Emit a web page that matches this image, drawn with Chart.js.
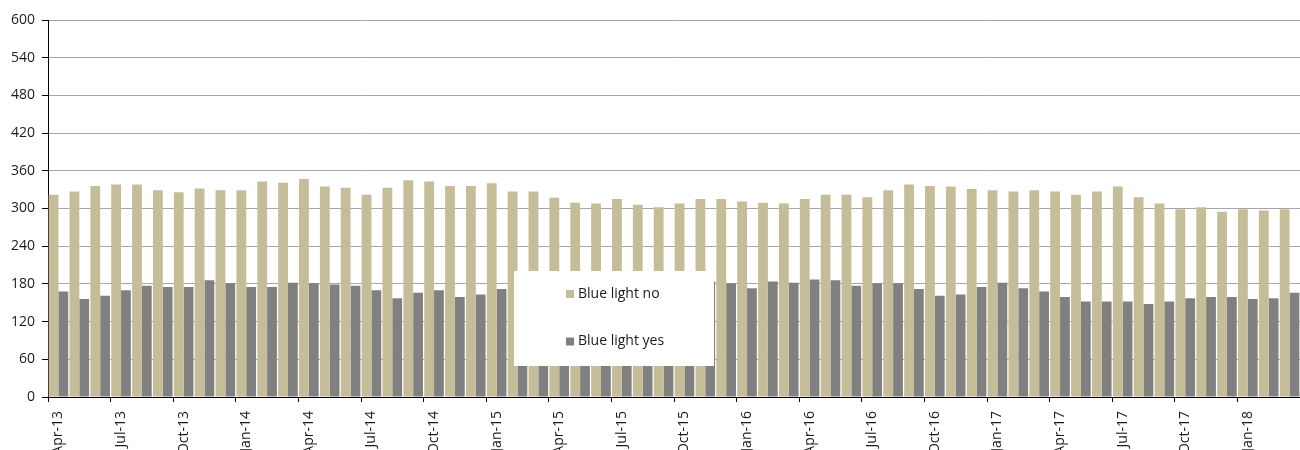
<!DOCTYPE html>
<html>
<head>
<meta charset="utf-8">
<script src="https://cdn.jsdelivr.net/npm/chart.js@4"></script>
<style>
    html, body { margin: 0; padding: 0; background: #fff; overflow: hidden; }
    #wrap { position: relative; width: 1300px; height: 450px; }
</style>
</head>
<body>
<div id="wrap"><canvas id="blueChart"></canvas></div>
<script>
/* --- Data --- */
const months = [
    'Apr-13', 'May-13', 'Jun-13', 'Jul-13', 'Aug-13', 'Sep-13', 'Oct-13', 'Nov-13', 'Dec-13',
    'Jan-14', 'Feb-14', 'Mar-14', 'Apr-14', 'May-14', 'Jun-14', 'Jul-14', 'Aug-14', 'Sep-14',
    'Oct-14', 'Nov-14', 'Dec-14', 'Jan-15', 'Feb-15', 'Mar-15', 'Apr-15', 'May-15', 'Jun-15',
    'Jul-15', 'Aug-15', 'Sep-15', 'Oct-15', 'Nov-15', 'Dec-15', 'Jan-16', 'Feb-16', 'Mar-16',
    'Apr-16', 'May-16', 'Jun-16', 'Jul-16', 'Aug-16', 'Sep-16', 'Oct-16', 'Nov-16', 'Dec-16',
    'Jan-17', 'Feb-17', 'Mar-17', 'Apr-17', 'May-17', 'Jun-17', 'Jul-17', 'Aug-17', 'Sep-17',
    'Oct-17', 'Nov-17', 'Dec-17', 'Jan-18', 'Feb-18', 'Mar-18'
];

const blueLightNo = [
    322, 327, 336, 338, 338, 329, 326, 332, 329,
    329, 343, 341, 347, 335, 333, 322, 333, 345,
    343, 336, 336, 340, 327, 327, 317, 309, 308,
    315, 306, 302, 308, 315, 315, 311, 309, 308,
    315, 322, 322, 318, 329, 338, 336, 335, 331,
    329, 327, 329, 327, 322, 327, 335, 318, 308,
    299, 302, 295, 299, 297, 299
];

const blueLightYes = [
    168, 156, 161, 170, 177, 175, 175, 186, 181,
    175, 175, 182, 181, 179, 177, 170, 157, 166,
    170, 159, 163, 172, 175, 170, 168, 165, 168,
    170, 172, 175, 180, 184, 181, 173, 184, 182,
    187, 186, 177, 181, 181, 172, 161, 163, 175,
    182, 173, 168, 159, 152, 152, 152, 148, 152,
    157, 159, 159, 156, 157, 166
];

const yMax = 600;
const yStep = 60;

const FONT = "'Open Sans', 'DejaVu Sans', sans-serif";

/* --- Legend box drawn over the bars --- */
const boxLegend = {
    id: 'boxLegend',
    afterDatasetsDraw(chart) {
        const { ctx, chartArea } = chart;
        const x = chartArea.left + 466;
        const y = chartArea.top + 251;
        ctx.save();
        ctx.fillStyle = '#ffffff';
        ctx.fillRect(x, y, 200, 95);
        ctx.font = '14px ' + FONT;
        ctx.textBaseline = 'middle';
        chart.data.datasets.forEach((ds, i) => {
            const cy = y + 23 + i * 47.5;
            ctx.fillStyle = ds.backgroundColor;
            ctx.fillRect(x + 52, cy - 4, 8, 8);
            ctx.fillStyle = '#1a1a1a';
            ctx.fillText(ds.label, x + 64, cy);
        });
        ctx.restore();
    }
};

/* --- Chart --- */
Chart.defaults.font.family = FONT;
Chart.defaults.font.size = 14;
Chart.defaults.color = '#1a1a1a';

new Chart(document.getElementById('blueChart'), {
    type: 'bar',
    data: {
        labels: months,
        datasets: [
            { label: 'Blue light no', data: blueLightNo, backgroundColor: '#c5bd98' },
            { label: 'Blue light yes', data: blueLightYes, backgroundColor: '#808080' }
        ]
    },
    options: {
        responsive: true,
        maintainAspectRatio: false,
        animation: false,
        datasets: { bar: { categoryPercentage: 0.94, barPercentage: 1.0 } },
        // the last month runs past the right edge, as in the source image
        layout: { padding: { left: 4, top: 20, right: -9, bottom: 0 } },
        plugins: { legend: { display: false }, tooltip: { enabled: false } },
        scales: {
            x: {
                offset: true,
                // keep the axis short so the rotated labels get cut at the bottom
                afterFit: (scale) => {
                    scale.height = 53;
                    scale.paddingLeft = 0;
                    scale.paddingRight = 0;
                },
                grid: {
                    offset: true,
                    drawOnChartArea: false,
                    tickLength: 5,
                    tickColor: (c) => (c.index % 3 === 0 ? '#000' : 'rgba(0,0,0,0)')
                },
                border: { color: '#000', width: 1 },
                ticks: {
                    autoSkip: false,
                    minRotation: 90,
                    maxRotation: 90,
                    padding: 9,
                    callback: (v, i) => (i % 3 === 0 ? months[i] : '')
                }
            },
            y: {
                min: 0,
                max: yMax,
                ticks: { stepSize: yStep, padding: 7 },
                grid: { color: '#a6a6a6', tickColor: '#000', tickLength: 6 },
                border: { color: '#000', width: 1 }
            }
        }
    },
    plugins: [boxLegend]
});
</script>
</body>
</html>
